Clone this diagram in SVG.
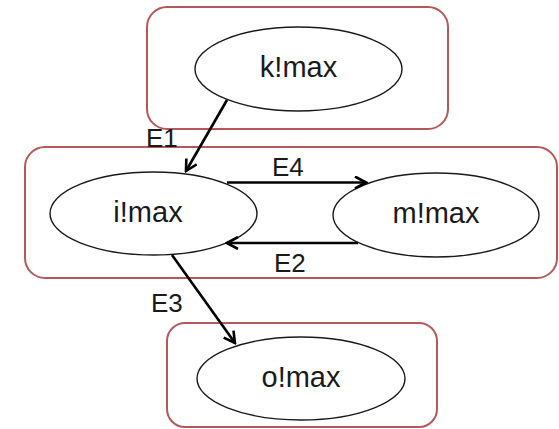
<svg xmlns="http://www.w3.org/2000/svg" width="559" height="429" viewBox="0 0 559 429">
  <style>
    .box { fill: #ffffff; stroke: #b5585a; stroke-width: 2; }
    .node { fill: #ffffff; stroke: #1a1a1a; stroke-width: 1.4; }
    .ntext { font-family: "Liberation Sans", Arial, sans-serif; font-size: 29px; fill: #1a1a1a; text-anchor: middle; }
    .etext { font-family: "Liberation Sans", Arial, sans-serif; font-size: 26px; fill: #1a1a1a; }
    .edge { fill: none; stroke: #000000; stroke-width: 2.6; }
  </style>
  <defs>
    <marker id="arrow" viewBox="0 0 14 14" refX="12" refY="7" markerWidth="14" markerHeight="14" markerUnits="userSpaceOnUse" orient="auto">
      <path d="M1,1 L12,7 L1,13" fill="none" stroke="#000000" stroke-width="2.6"/>
    </marker>
  </defs>

  <rect width="559" height="429" fill="#ffffff"/>

  <!-- containers -->
  <rect class="box" x="147" y="7" width="301" height="122" rx="20"/>
  <rect class="box" x="25" y="147" width="532" height="131" rx="20"/>
  <rect class="box" x="167" y="323" width="270" height="104" rx="18"/>

  <g id="k-max">
    <ellipse class="node" cx="298.5" cy="69" rx="103.5" ry="42"/>
    <text class="ntext" x="298.5" y="77">k!max</text>
  </g>
  <g id="i-max">
    <ellipse class="node" cx="153.5" cy="213.5" rx="103.5" ry="41.5"/>
    <text class="ntext" x="148" y="222">i!max</text>
  </g>
  <g id="m-max">
    <ellipse class="node" cx="436" cy="215" rx="103" ry="42"/>
    <text class="ntext" x="436" y="223">m!max</text>
  </g>
  <g id="o-max">
    <ellipse class="node" cx="301" cy="378.5" rx="104" ry="41.5"/>
    <text class="ntext" x="301" y="387">o!max</text>
  </g>

  <g id="connectors">
    <line class="edge" x1="227" y1="100" x2="186" y2="171" marker-end="url(#arrow)"/>
    <text class="etext" x="146" y="147">E1</text>

    <line class="edge" x1="227" y1="182.5" x2="366" y2="182.5" marker-end="url(#arrow)"/>
    <text class="etext" x="272" y="176">E4</text>

    <line class="edge" x1="358" y1="243" x2="227" y2="243" marker-end="url(#arrow)"/>
    <text class="etext" x="274" y="272">E2</text>

    <line class="edge" x1="172" y1="255" x2="235" y2="343" marker-end="url(#arrow)"/>
    <text class="etext" x="151" y="312">E3</text>
  </g>
</svg>
